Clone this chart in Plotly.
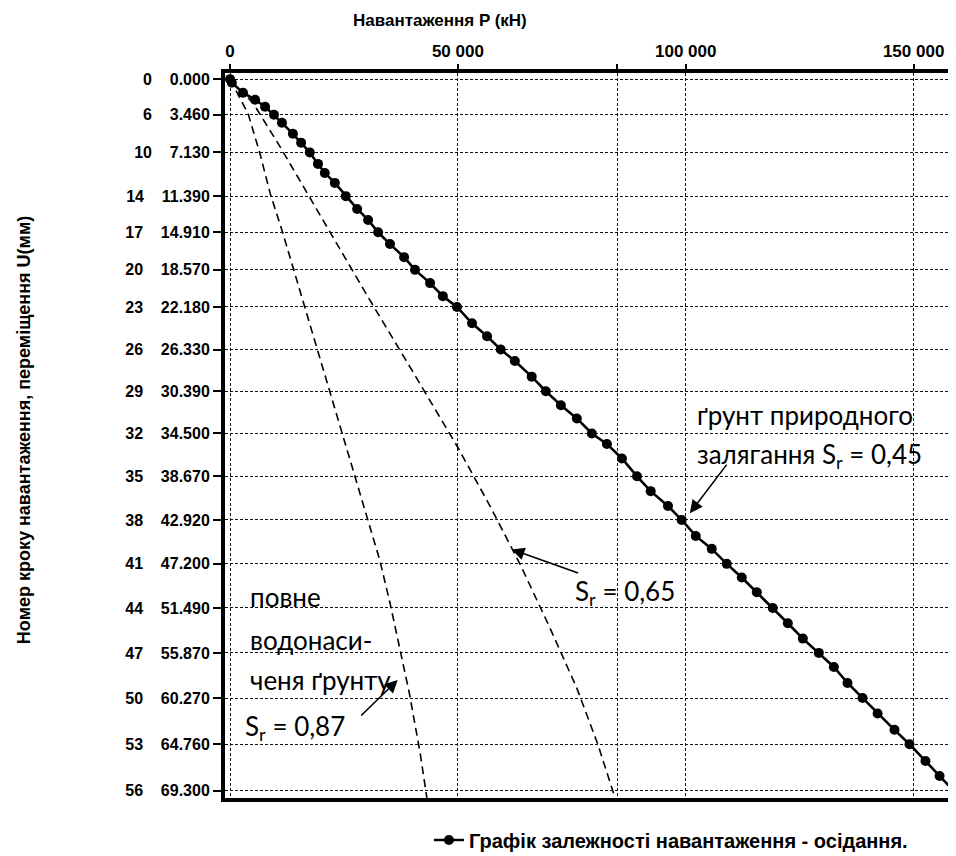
import plotly.graph_objects as go

# ---- axis tick data ----
load_steps = [0, 6, 10, 14, 17, 20, 23, 26, 29, 32, 35, 38, 41, 44, 47, 50, 53, 56]
disp_labels = [0.000, 3.460, 7.130, 11.390, 14.910, 18.570, 22.180, 26.330, 30.390,
               34.500, 38.670, 42.920, 47.200, 51.490, 55.870, 60.270, 64.760, 69.300]
p_ticks = [0, 50000, 85000, 100000, 150000]
p_tick_text = ["0", "50 000", " ", "100 000", "150 000"]

# ---- main curve (Sr = 0.45), load P (kN) vs displacement U (mm) ----
P_main = [0, 400, 2850, 5500, 7700, 9650, 11400, 13800, 15600, 17500, 19300, 20800,
          23000, 25400, 27900, 30300, 32500, 35100, 38200, 40600, 43900, 46700, 49800,
          53100, 56400, 59400, 62500, 66200, 69300, 72600, 76100, 79400, 82700, 86000,
          89300, 92300, 96100, 99100, 102200, 105700, 109000, 112300, 115600, 119100,
          122400, 125700, 129200, 132500, 135500, 138800, 142100, 145800, 149100,
          152600, 155700, 158800]
U_main = [0, 0.35, 1.32, 2.00, 2.68, 3.46, 4.25, 5.32, 6.20, 7.13, 8.25, 9.13, 10.10,
          11.39, 12.64, 13.71, 14.91, 16.06, 17.33, 18.57, 19.86, 21.13, 22.18, 23.77,
          25.04, 26.33, 27.45, 28.97, 30.39, 31.76, 33.04, 34.50, 35.52, 36.94, 38.67,
          40.12, 41.57, 42.92, 44.48, 45.74, 47.20, 48.53, 49.96, 51.49, 52.98, 54.48,
          55.87, 57.24, 58.80, 60.27, 61.77, 63.36, 64.76, 66.40, 67.85, 69.30]

# ---- dashed curve Sr = 0.65 ----
P_065 = [0, 5000, 11000, 16900, 22600, 30300, 39900, 46700, 50000, 57000, 63600,
         70200, 76100, 80700, 84500]
U_065 = [0, 2.29, 6.59, 11.08, 15.37, 21.23, 28.33, 33.43, 35.87, 41.53, 47.19,
         53.44, 59.30, 64.76, 70.0]

# ---- dashed curve Sr = 0.87 ----
P_087 = [0, 4000, 6600, 8800, 11600, 15800, 20000, 24300, 28700, 32900, 35150,
         37400, 39400, 41750, 43200]
U_087 = [0, 3.4, 7.3, 11.1, 15.0, 21.3, 27.6, 34.2, 40.8, 46.9, 51.1, 55.7, 59.9,
         65.7, 70.0]

y_tick_text = [f"{s}\u00a0\u00a0\u00a0\u00a0{u:.3f}" for s, u in zip(load_steps, disp_labels)]

SANS = "Liberation Sans, Arial, sans-serif"
Y_FONT = dict(family=SANS, size=16, color="black", weight="bold")
X_FONT = dict(family=SANS, size=17, color="black", weight="bold")
ANN_FONT = dict(family="Lato, sans-serif", size=26, color="black")

fig = go.Figure()
fig.add_trace(go.Scatter(x=P_087, y=U_087, mode="lines", showlegend=False,
                         line=dict(color="black", width=1.6, dash="8px,5px")))
fig.add_trace(go.Scatter(x=P_065, y=U_065, mode="lines", showlegend=False,
                         line=dict(color="black", width=1.6, dash="8px,5px")))
fig.add_trace(go.Scatter(x=P_main, y=U_main, mode="lines+markers",
                         name="Графік залежності навантаження - осідання.",
                         line=dict(color="black", width=2.6),
                         marker=dict(color="black", size=10, symbol="circle")))

# page body has an 8px margin, so the figure is shrunk by 8px and margins shifted
fig.update_layout(
    width=948, height=848,
    margin=dict(l=217, r=0, t=65, b=58, autoexpand=False),
    paper_bgcolor="white", plot_bgcolor="white",
    showlegend=True,
    legend=dict(orientation="h", x=0.279, xanchor="left", y=-0.058, yanchor="middle",
                font=dict(family=SANS, size=20, color="black", weight="bold"),
                bgcolor="rgba(0,0,0,0)"),
)

fig.update_xaxes(
    side="top", range=[-1100, 159300], automargin=False,
    tickvals=p_ticks, ticktext=p_tick_text, tickfont=X_FONT,
    ticks="outside", ticklen=5, tickwidth=2, tickcolor="black",
    showline=True, linewidth=4, linecolor="black", mirror=True,
    showgrid=True, gridcolor="#111", gridwidth=1, griddash="3px,2px",
    zeroline=False,
)
fig.update_yaxes(
    range=[70.0, -0.6], automargin=False,
    tickvals=disp_labels, ticktext=y_tick_text, tickfont=Y_FONT,
    ticks="outside", ticklen=8, tickwidth=2, tickcolor="black",
    showline=True, linewidth=4, linecolor="black", mirror=False,
    showgrid=True, gridcolor="#111", gridwidth=1, griddash="3px,2px",
    zeroline=False,
)

# axis titles
fig.add_annotation(text="Навантаження P (кН)", xref="paper", yref="paper",
                   x=0.294, y=1.073, xanchor="center", yanchor="middle", showarrow=False,
                   font=dict(family=SANS, size=17, color="black", weight="bold"))
fig.add_annotation(text="Номер кроку навантаження, переміщення U(мм)", xref="paper", yref="paper",
                   x=-0.274, y=0.507, xanchor="center", yanchor="middle", showarrow=False,
                   textangle=-90,
                   font=dict(family=SANS, size=18, color="black", weight="bold"))

# curve labels
labels = [
    ("ґрунт природного", 102000, 32.7),
    ("залягання S<sub>r</sub> = 0,45", 102000, 36.6),
    ("S<sub>r</sub> = 0,65", 75200, 49.95),
    ("повне", 3950, 50.4),
    ("водонаси-", 3950, 54.6),
    ("ченя ґрунту", 3950, 58.5),
    ("S<sub>r</sub> = 0,87", 2850, 63.1),
]
for t, xx, yy in labels:
    fig.add_annotation(text=t, x=xx, y=yy, xanchor="left", yanchor="middle",
                       showarrow=False, font=ANN_FONT)

arrows = [
    (100900, 42.26, 38, -50),
    (61800, 45.8, 68, 24),
    (36800, 58.5, -38, 37),
]
for xx, yy, ax, ay in arrows:
    fig.add_annotation(x=xx, y=yy, ax=ax, ay=ay, text="", showarrow=True,
                       arrowhead=2, arrowsize=1.6, arrowwidth=1.6, arrowcolor="black")

fig.write_html("out.html")
